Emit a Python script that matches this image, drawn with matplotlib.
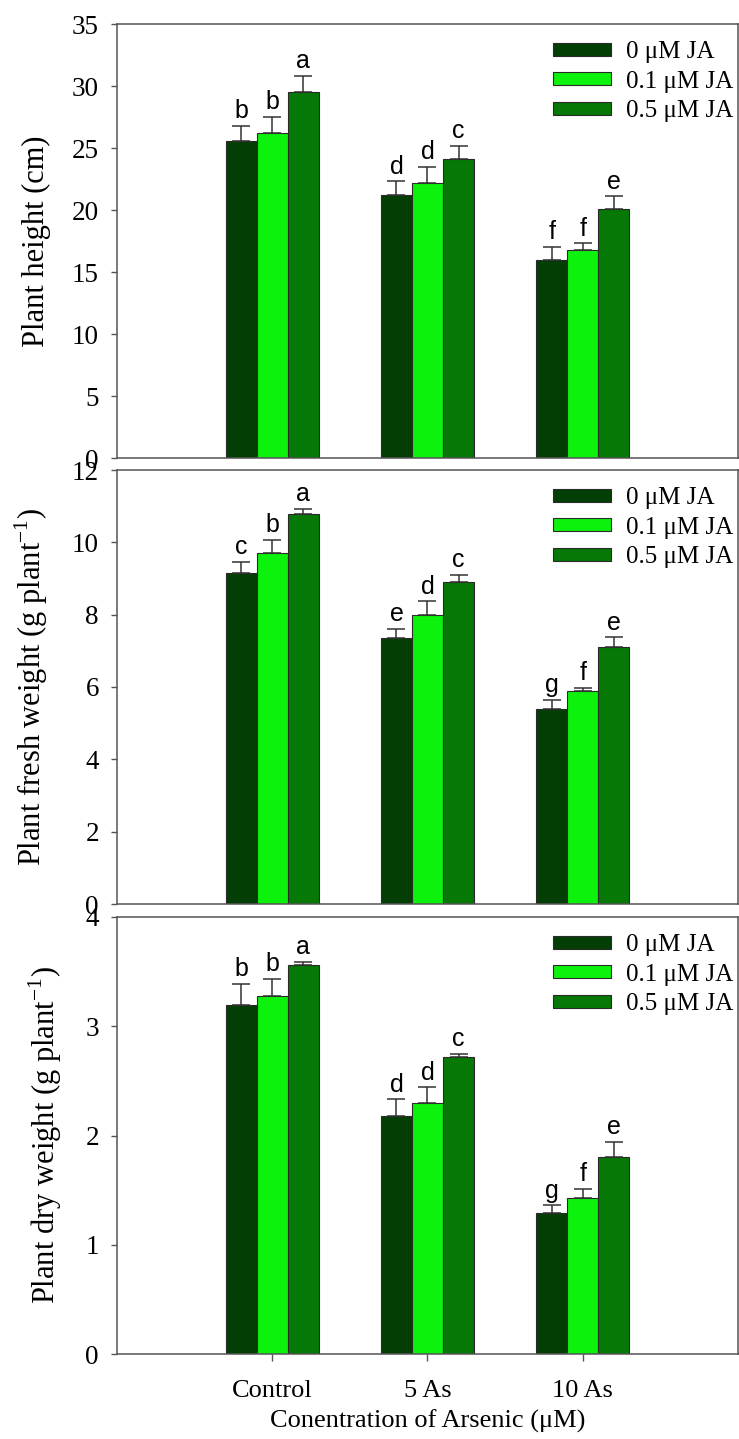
import numpy as np
import matplotlib
matplotlib.use("Agg")
import matplotlib.pyplot as plt

# treatment groups and JA doses
groups = ["Control", "5 As", "10 As"]
doses = ["0 \u03bcM JA", "0.1 \u03bcM JA", "0.5 \u03bcM JA"]

# plant height (cm): rows = JA dose, columns = arsenic level
height_mean = [[25.6, 21.2, 16.0],
               [26.2, 22.2, 16.8],
               [29.5, 24.1, 20.1]]
height_err = [[1.2, 1.1, 1.0],
              [1.3, 1.3, 0.5],
              [1.3, 1.1, 1.0]]
height_letters = [["b", "d", "f"],
                  ["b", "d", "f"],
                  ["a", "c", "e"]]

# fresh weight (g plant-1)
fresh_mean = [[9.15, 7.35, 5.39],
              [9.70, 8.00, 5.89],
              [10.78, 8.90, 7.10]]
fresh_err = [[0.30, 0.25, 0.25],
             [0.37, 0.37, 0.08],
             [0.14, 0.20, 0.27]]
fresh_letters = [["c", "e", "g"],
                 ["b", "d", "f"],
                 ["a", "c", "e"]]

# dry weight (g plant-1)
dry_mean = [[3.19, 2.18, 1.29],
            [3.28, 2.30, 1.43],
            [3.56, 2.72, 1.80]]
dry_err = [[0.20, 0.15, 0.07],
           [0.15, 0.14, 0.08],
           [0.03, 0.03, 0.14]]
dry_letters = [["b", "d", "g"],
               ["b", "d", "f"],
               ["a", "c", "e"]]

colors = ["#033f04", "#0cf20c", "#067806"]

panels = [
    ("Plant height (cm)", height_mean, height_err, height_letters, 35, 5, -0.106),
    ("Plant fresh weight (g plant$^{-1}$)", fresh_mean, fresh_err, fresh_letters, 12, 2, -0.108),
    ("Plant dry weight (g plant$^{-1}$)", dry_mean, dry_err, dry_letters, 4, 1, -0.086),
]

serif = "Liberation Serif"
sans = "Liberation Sans"
plt.rcParams["font.family"] = serif
plt.rcParams["mathtext.fontset"] = "custom"
plt.rcParams["mathtext.rm"] = serif

W, H = 739, 1439
fig = plt.figure(figsize=(W / 100, H / 100), dpi=100)

# axes boxes in pixels: (top, bottom)
boxes = [(24, 458), (470, 904), (917, 1354)]
left_px, right_px = 117, 738

x = np.arange(len(groups))
width = 0.2
frame = "#555555"

for i, (ylab, mean, err, letters, ymax, ystep, labx) in enumerate(panels):
    top, bot = boxes[i]
    ax = fig.add_axes([left_px / W, 1 - bot / H, (right_px - left_px) / W, (bot - top) / H])
    for j in range(3):
        pos = x + (j - 1) * width
        m = np.array(mean[j])
        e = np.array(err[j])
        ax.bar(pos, m, width, color=colors[j], edgecolor="#2a2a2a", linewidth=0.8,
               label=doses[j], zorder=2)
        ax.errorbar(pos, m, yerr=[np.zeros_like(e), e], fmt="none", ecolor="#333333",
                    elinewidth=1.1, capsize=6.5, capthick=1.1, zorder=3)
        for k in range(3):
            ax.annotate(letters[j][k], (pos[k], m[k] + e[k]), xytext=(0, 2),
                        textcoords="offset points", ha="center", va="bottom",
                        fontsize=18, family=sans)

    ax.set_xlim(-1, 3)
    ax.set_ylim(0, ymax)
    ax.set_yticks(np.arange(0, ymax + ystep / 2, ystep))
    ax.tick_params(axis="y", direction="out", length=4, width=1, color=frame,
                   labelsize=19.5, pad=9)
    for s in ax.spines.values():
        s.set_color(frame)
        s.set_linewidth(1.1)
    ax.set_ylabel(ylab, fontsize=22)
    ax.yaxis.set_label_coords(labx, 0.5)

    if i == 2:
        ax.set_xticks(x)
        ax.set_xticklabels(groups)
        ax.tick_params(axis="x", direction="out", length=5, width=1, color=frame,
                       labelsize=19, pad=14)
        ax.set_xlabel("Conentration of Arsenic (\u03bcM)", fontsize=19, labelpad=5)
    else:
        ax.set_xticks([])

    ax.legend(loc="upper right", bbox_to_anchor=(1.016, 0.995), frameon=False,
              fontsize=18, handlelength=2.3, handleheight=0.45, handletextpad=0.6,
              labelspacing=0.3, borderaxespad=0.2)

fig.savefig("out.png", dpi=100)
